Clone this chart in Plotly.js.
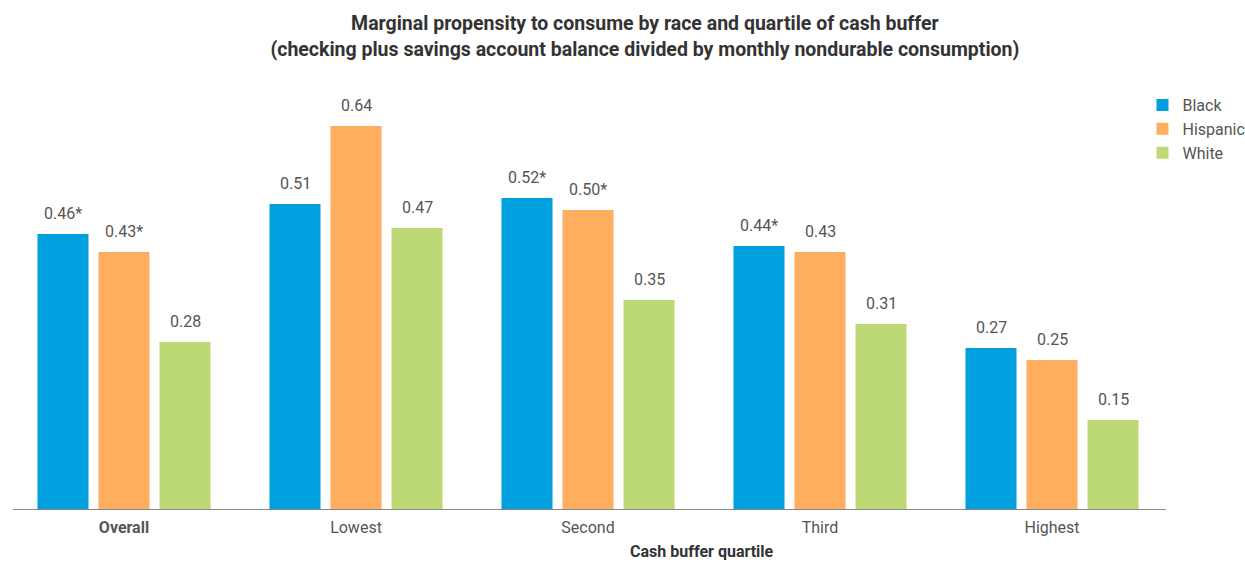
<!DOCTYPE html>
<html>
<head>
<meta charset="utf-8">
<script src="https://cdn.plot.ly/plotly-3.0.1.min.js"></script>
<style>html,body{margin:0;padding:0;background:#fff;}#chart{width:1245px;height:562px;}</style>
</head>
<body>
<div id="chart"></div>
<script>
const categories = ["Overall", "Lowest", "Second", "Third", "Highest"];
const blackValues = [0.46, 0.51, 0.52, 0.44, 0.27];
const hispanicValues = [0.43, 0.64, 0.50, 0.43, 0.25];
const whiteValues = [0.28, 0.47, 0.35, 0.31, 0.15];
const blackLabels = ["0.46*", "0.51", "0.52*", "0.44*", "0.27"];
const hispanicLabels = ["0.43*", "0.64", "0.50*", "0.43", "0.25"];
const whiteLabels = ["0.28", "0.47", "0.35", "0.31", "0.15"];
const tickLabels = ["<b>Overall</b>", "Lowest", "Second", "Third", "Highest"];

const FONT = "Roboto, 'Open Sans', sans-serif";
const series = [
  {name: "Black", values: blackValues, labels: blackLabels, color: "#00A0DE", shift: -61},
  {name: "Hispanic", values: hispanicValues, labels: hispanicLabels, color: "#FFAD5F", shift: 0},
  {name: "White", values: whiteValues, labels: whiteLabels, color: "#BDD976", shift: 61}
];

const traces = series.map(s => ({
  type: "bar",
  name: s.name,
  x: categories,
  y: s.values,
  marker: {color: s.color, line: {width: 0}},
  hoverinfo: "skip"
}));

const annotations = [];
series.forEach(s => {
  categories.forEach((c, i) => {
    annotations.push({
      x: c, y: s.values[i], xref: "x", yref: "y",
      text: s.labels[i], showarrow: false,
      xanchor: "center", yanchor: "bottom", yshift: 9, xshift: s.shift,
      font: {family: FONT, size: 16, color: "#555555"}
    });
  });
});
annotations.push({
  xref: "paper", yref: "paper", x: 0.598, y: -0.0955,
  text: "<b>Cash buffer quartile</b>", showarrow: false,
  xanchor: "center", yanchor: "middle",
  font: {family: FONT, size: 16, color: "#333333"}
});

const layout = {
  width: 1245, height: 562,
  margin: {l: 8, r: 77, t: 80, b: 52, pad: 0, autoexpand: false},
  paper_bgcolor: "#ffffff", plot_bgcolor: "#ffffff",
  title: {
    text: "<b>Marginal propensity to consume by race and quartile of cash buffer</b><br><b>(checking plus savings account balance divided by monthly nondurable consumption)</b>",
    x: 0.518, xanchor: "center", xref: "container",
    y: 0.946, yanchor: "top", yref: "container",
    font: {family: FONT, size: 19.5, color: "#333333"}
  },
  barmode: "group",
  bargap: 0.211,
  bargroupgap: 0.164,
  showlegend: true,
  legend: {
    x: 0.978, xanchor: "left", y: 0.981, yanchor: "top",
    font: {family: FONT, size: 16, color: "#555555"},
    itemwidth: 30, tracegroupgap: 0,
    bgcolor: "rgba(0,0,0,0)"
  },
  xaxis: {
    type: "category",
    tickmode: "array", tickvals: categories, ticktext: tickLabels,
    tickfont: {family: FONT, size: 16, color: "#555555"},
    ticklabelstandoff: 6,
    showline: false, ticks: "", showgrid: false, zeroline: false,
    fixedrange: true
  },
  yaxis: {
    range: [0, 0.7167],
    visible: false, showgrid: false, zeroline: false, fixedrange: true
  },
  shapes: [{
    type: "line", xref: "paper", yref: "y",
    x0: 0.0043, x1: 0.9981, y0: 0, y1: 0,
    line: {color: "#888888", width: 2}
  }],
  annotations: annotations
};

Plotly.newPlot("chart", traces, layout, {displayModeBar: false, staticPlot: true});
</script>
</body>
</html>
